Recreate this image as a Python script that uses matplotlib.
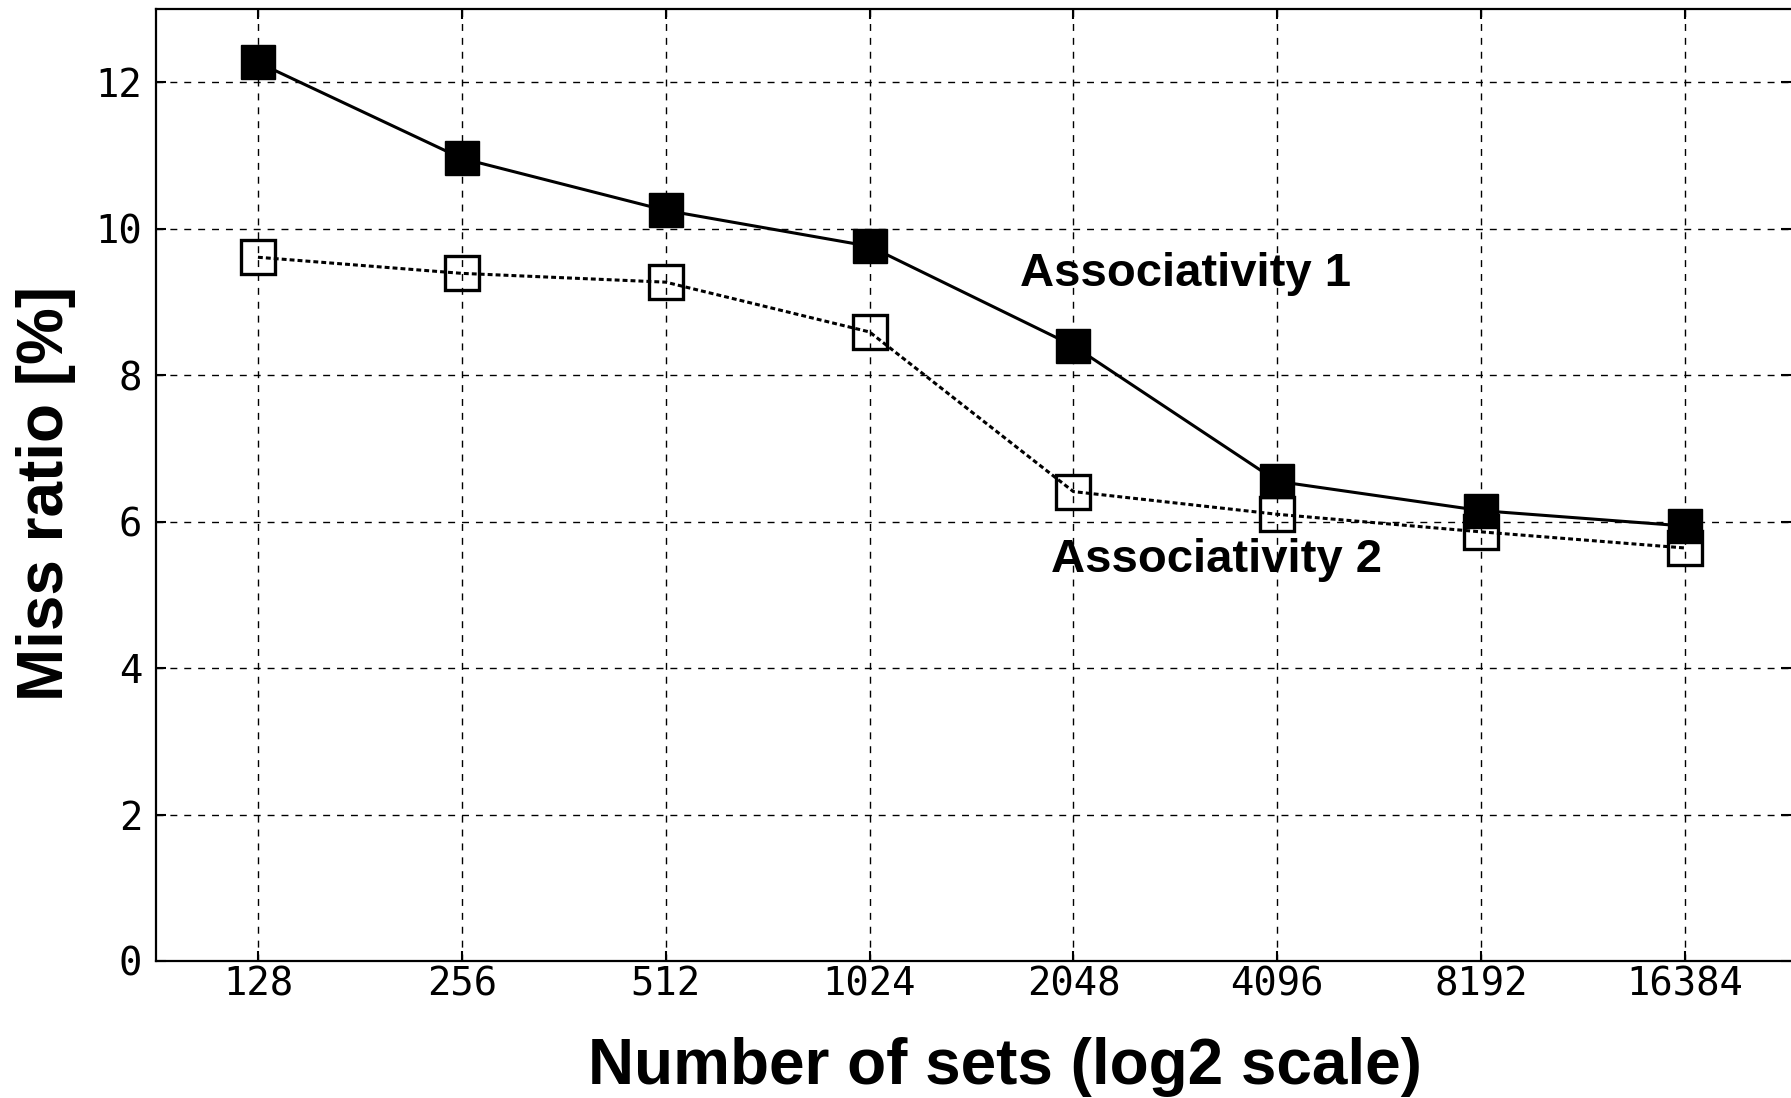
import matplotlib
matplotlib.use("Agg")
import matplotlib.pyplot as plt

# ---- data ----
num_sets = [128, 256, 512, 1024, 2048, 4096, 8192, 16384]
tick_labels = ["128", "256", "512", "1024", "2048", "4096", "8192", "16384"]
assoc1 = [12.27, 10.96, 10.25, 9.76, 8.40, 6.55, 6.15, 5.94]
assoc2 = [9.61, 9.39, 9.27, 8.59, 6.41, 6.10, 5.86, 5.64]
y_ticks = [0, 2, 4, 6, 8, 10, 12]

W, H = 1791, 1098
fig = plt.figure(figsize=(W / 100, H / 100), dpi=100)
left, right, top, bottom = 156, 1791, 9, 961
ax = fig.add_axes([left / W, 1 - bottom / H, (right - left) / W, (bottom - top) / H])

ax.set_xscale("log", base=2)

# Associativity 2 (open squares, dotted)
ax.plot(num_sets, assoc2, color="black", lw=2.2, dashes=(1.6, 1.0),
        marker="s", markersize=24, markerfacecolor="none",
        markeredgecolor="black", markeredgewidth=2.4, zorder=3)
# Associativity 1 (filled squares, solid)
ax.plot(num_sets, assoc1, color="black", lw=2.2, linestyle="-",
        marker="s", markersize=24, markerfacecolor="black",
        markeredgecolor="black", zorder=4)

ax.set_xlim(2 ** 6.5, 2 ** 14.52)
ax.set_ylim(0, 13)
ax.set_xticks(num_sets)
ax.set_xticklabels(tick_labels)
ax.minorticks_off()
ax.set_yticks(y_ticks)
ax.set_yticklabels([str(v) for v in y_ticks])

for lab in ax.get_xticklabels() + ax.get_yticklabels():
    lab.set_fontfamily("DejaVu Sans Mono")
    lab.set_fontsize(28)

ax.tick_params(axis="both", direction="in", length=7, width=1.5,
               top=True, right=True, color="black")
ax.tick_params(axis="x", pad=3)
ax.tick_params(axis="y", pad=10)

ax.grid(True, color="black", linestyle=(0, (5, 5)), linewidth=1.0)
ax.set_axisbelow(True)

for side in ["left", "top", "bottom"]:
    ax.spines[side].set_linewidth(1.6)
ax.spines["right"].set_visible(False)

ax.set_xlabel("Number of sets (log2 scale)", fontsize=46, fontweight="bold",
              family=["Liberation Sans", "DejaVu Sans"])
ax.xaxis.label.set_va("center")
ax.xaxis.set_label_coords(0.519, -0.111)
ax.set_ylabel("Miss ratio [%]", fontsize=46, fontweight="bold",
              family=["Liberation Sans", "DejaVu Sans"])
ax.yaxis.label.set_va("center")
ax.yaxis.set_label_coords(-0.0673, 0.4916)

ax.text(2 ** 10.736, 9.38, "Associativity 1", fontsize=34, fontweight="bold",
        family=["Liberation Sans", "DejaVu Sans"], ha="left", va="center", zorder=5)
ax.text(2 ** 10.888, 5.47, "Associativity 2", fontsize=34, fontweight="bold",
        family=["Liberation Sans", "DejaVu Sans"], ha="left", va="center", zorder=5)

fig.savefig("out.png", dpi=100, facecolor="white")
